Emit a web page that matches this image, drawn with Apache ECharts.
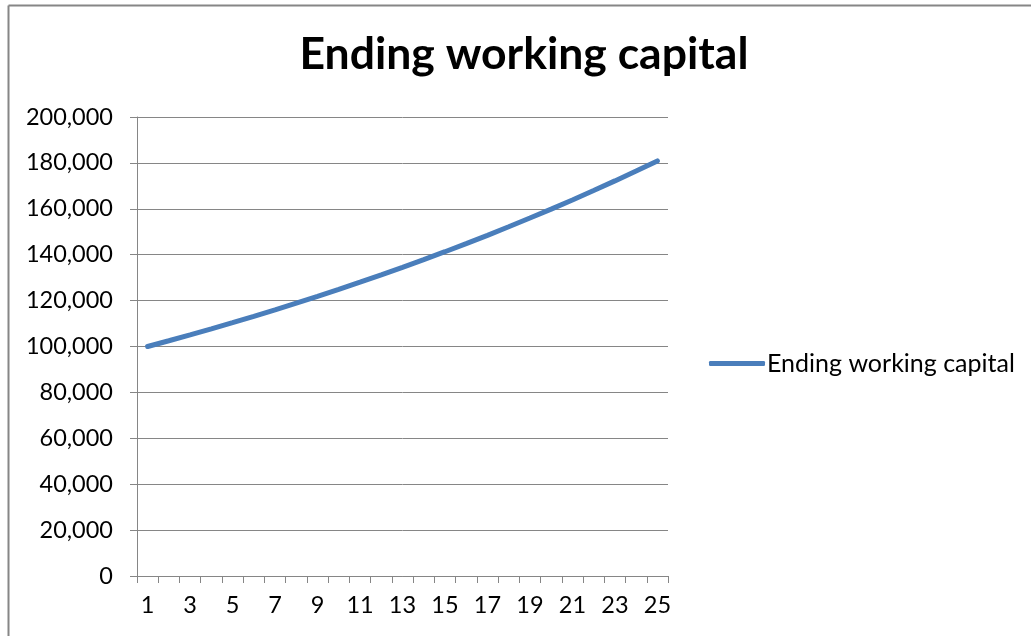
<!DOCTYPE html>
<html><head><meta charset="utf-8">
<script src="https://cdn.jsdelivr.net/npm/echarts@6/dist/echarts.min.js"></script>
<style>html,body{margin:0;padding:0;background:#fff}#c{width:1031px;height:636px}</style>
</head><body><div id="c"></div>
<script>
const categories = ['1','2','3','4','5','6','7','8','9','10','11','12','13','14','15','16','17','18','19','20','21','22','23','24','25'];
const seriesName = 'Ending working capital';
const values = [100000,102500,105060,107690,110380,113140,115970,118870,121840,124890,128010,131210,134490,137850,141300,144830,148450,152160,155970,159870,163860,167960,172160,176460,180870];
const yMin = 0, yMax = 200000, yStep = 20000;

const FONT = 'Lato';
const chart = echarts.init(document.getElementById('c'), null, {renderer:'canvas'});
chart.setOption({
  animation:false,
  backgroundColor:'#fff',
  title:{text:'Ending working capital', left:524, textAlign:'center', top:32, padding:0, itemGap:0,
    textStyle:{fontFamily:FONT, fontWeight:'bold', fontSize:44.5, color:'#000'}},
  legend:{data:[seriesName], left:709, top:351, padding:0, itemWidth:56, itemHeight:5, itemGap:4,
    icon:'roundRect',
    textStyle:{fontFamily:FONT, fontSize:25, color:'#000', padding:[0,0,0,-3]}},
  grid:{left:137, right:363, top:117, bottom:60, containLabel:false},
  xAxis:{type:'category', data:categories, boundaryGap:true,
    axisLine:{lineStyle:{color:'#868686', width:1}},
    axisTick:{show:true, alignWithLabel:false, interval:0, length:7, lineStyle:{color:'#868686'}},
    axisLabel:{interval:1, margin:17, fontFamily:FONT, fontSize:23.5, color:'#000'},
    splitLine:{show:false}},
  yAxis:{type:'value', min:yMin, max:yMax, interval:yStep,
    axisLine:{show:true, lineStyle:{color:'#868686', width:1}},
    axisTick:{show:true, length:7, lineStyle:{color:'#868686'}},
    axisLabel:{margin:24, fontFamily:FONT, fontSize:23.5, color:'#000',
      formatter:v=>v.toLocaleString('en-US')},
    splitLine:{show:true, lineStyle:{color:'#868686', width:1}}},
  series:[{name:seriesName, type:'line', data:values, showSymbol:false, symbol:'none',
    smooth:false, lineStyle:{color:'#4A7EBB', width:5, cap:'round'}, itemStyle:{color:'#4A7EBB'}}],
  graphic:[
    {type:'line', shape:{x1:8.5,y1:5.5,x2:1040,y2:5.5}, style:{stroke:'#868686', lineWidth:2}},
    {type:'line', shape:{x1:8.5,y1:5.5,x2:8.5,y2:700}, style:{stroke:'#868686', lineWidth:2}}
  ]
});
</script></body></html>
